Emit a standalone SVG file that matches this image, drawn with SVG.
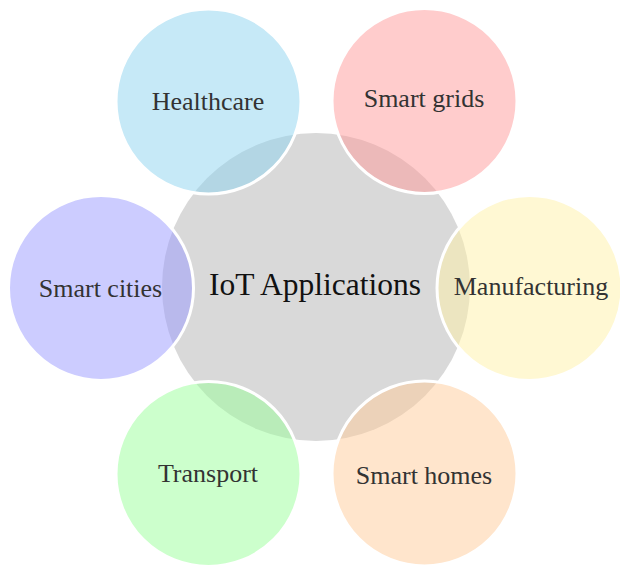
<svg xmlns="http://www.w3.org/2000/svg" width="620" height="568" viewBox="0 0 620 568">
<style>
.sat{stroke:#ffffff;stroke-width:3;fill-opacity:0.5}
.lbl{font-size:26px;fill:#333333;text-anchor:middle}
.main{font-size:31.5px;fill:#111111;text-anchor:middle}
</style>
<rect width="620" height="568" fill="#ffffff"/>
<g id="center">
<circle cx="316" cy="287" r="154" fill="#d9d9d9"/>
</g>
<g id="connectors"></g>
<g font-family="'Liberation Serif', 'Times New Roman', serif">
<g id="healthcare">
<circle class="sat" cx="208.5" cy="101.5" r="92.5" fill="#8dd3f0"/>
<text class="lbl" x="208" y="110">Healthcare</text>
</g>
<g id="smart-grids">
<circle class="sat" cx="424.5" cy="101" r="92.5" fill="#ff9999"/>
<text class="lbl" x="424" y="107">Smart grids</text>
</g>
<g id="manufacturing">
<circle class="sat" cx="529.5" cy="288" r="92.5" fill="#fff2a8"/>
<text class="lbl" x="531" y="295">Manufacturing</text>
</g>
<g id="smart-homes">
<circle class="sat" cx="424.5" cy="473.5" r="92.5" fill="#ffcc99"/>
<text class="lbl" x="424" y="484">Smart homes</text>
</g>
<g id="transport">
<circle class="sat" cx="208.5" cy="474" r="92.5" fill="#99ff99"/>
<text class="lbl" x="208" y="482">Transport</text>
</g>
<g id="smart-cities">
<circle class="sat" cx="101" cy="288" r="92.5" fill="#9999ff"/>
<text class="lbl" x="100.5" y="297">Smart cities</text>
</g>
<g id="center-label">
<text class="main" x="315" y="295">IoT Applications</text>
</g>
</g>
</svg>
